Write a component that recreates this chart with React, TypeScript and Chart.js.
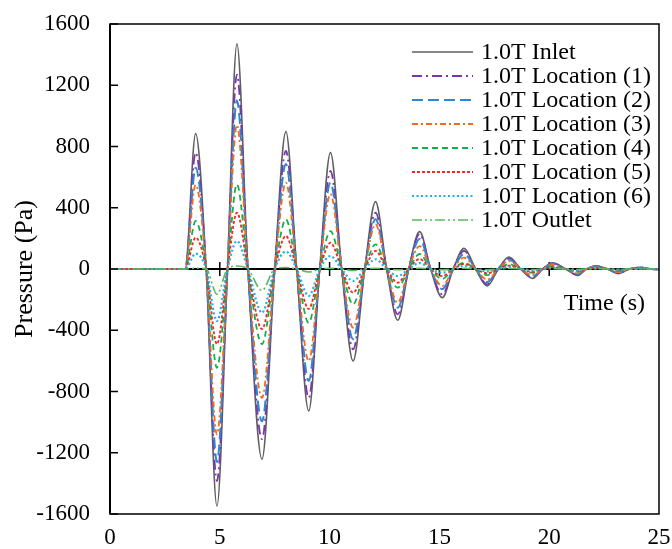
import React, { useEffect, useRef } from "react";
import { Chart, registerables } from "chart.js";

Chart.register(...registerables);

const FONT = "'Liberation Serif', 'Times New Roman', serif";

// Time (s)
const timeS = [0, 3.42, 3.9, 4.38, 4.87, 5.35, 5.78, 6.28, 6.92, 7.5, 8.01, 8.5, 9.05, 9.55, 10.04, 10.55, 11.07, 11.6, 12.09, 12.6, 13.1, 13.6, 14.1, 14.6, 15.13, 15.63, 16.12, 16.65, 17.18, 17.68, 18.17, 18.7, 19.24, 19.7, 20.15, 20.75, 21.3, 21.7, 22.15, 22.65, 23.15, 23.65, 24.15, 24.65, 25];

// Pressure (Pa)
const inlet = [0, 0, 884, 0, -1549, 0, 1470, 0, -1242, 0, 897, 0, -927, 0, 760, 0, -601, 0, 440, 0, -335, 0, 244, 0, -187, 0, 135, 0, -111, 0, 78, 0, -61, 0, 41, 0, -42, 0, 20, 0, -30, 0, 10, 0, -3];
const loc1 = [0, 0, 760, 0, -1385, 0, 1270, 0, -1111, 0, 771, 0, -841, 0, 640, 0, -525, 0, 368, 0, -296, 0, 229, 0, -166, 0, 118, 0, -100, 0, 70, 0, -55, 0, 38, 0, -38, 0, 20, 0, -27, 0, 10, 0, -3];
const loc2 = [0, 0, 662, 0, -1260, 0, 1100, 0, -995, 0, 686, 0, -731, 0, 564, 0, -458, 0, 325, 0, -253, 0, 196, 0, -131, 0, 98, 0, -85, 0, 62, 0, -48, 0, 34, 0, -33, 0, 18, 0, -24, 0, 9, 0, -3];
const loc3 = [0, 0, 550, 0, -1080, 0, 940, 0, -841, 0, 564, 0, -601, 0, 490, 0, -383, 0, 292, 0, -220, 0, 150, 0, -111, 0, 74, 0, -70, 0, 52, 0, -40, 0, 28, 0, -28, 0, 15, 0, -20, 0, 8, 0, -2];
const loc4 = [0, 0, 314, 0, -645, 0, 553, 0, -490, 0, 324, 0, -351, 0, 248, 0, -231, 0, 161, 0, -122, 0, 98, 0, -65, 0, 41, 0, -40, 0, 32, 0, -25, 0, 18, 0, -18, 0, 10, 0, -13, 0, 5, 0, -1];
const loc5 = [0, 0, 205, 0, -490, 0, 368, 0, -392, 0, 216, 0, -261, 0, 172, 0, -155, 0, 118, 0, -89, 0, 65, 0, -46, 0, 33, 0, -28, 0, 22, 0, -18, 0, 12, 0, -12, 0, 7, 0, -9, 0, 4, 0, -1];
const loc6 = [0, 0, 100, 0, -340, 0, 183, 0, -285, 0, 115, 0, -176, 0, 85, 0, -78, 0, 63, 0, -46, 0, 39, 0, -24, 0, 20, 0, -15, 0, 12, 0, -10, 0, 8, 0, -8, 0, 4, 0, -5, 0, 2, 0, 0];
const outlet = [0, 0, 5, 0, -165, 0, 20, 0, -140, 0, 10, 0, -20, 0, 5, 0, -10, 0, 5, 0, -5, 0, 5, 0, -5, 0, 5, 0, -5, 0, 3, 0, -3, 0, 2, 0, -2, 0, 2, 0, -2, 0, 1, 0, 0];

const seriesLabels = [
  "1.0T Inlet",
  "1.0T Location (1)",
  "1.0T Location (2)",
  "1.0T Location (3)",
  "1.0T Location (4)",
  "1.0T Location (5)",
  "1.0T Location (6)",
  "1.0T Outlet",
];
const seriesValues = [inlet, loc1, loc2, loc3, loc4, loc5, loc6, outlet];
const seriesColors = ["#5f5f5f", "#7a35b0", "#2f86d0", "#f26b1d", "#12b04a", "#f02828", "#19b2ea", "#5cb85c"];
const seriesDashes: number[][] = [[], [10, 4, 2, 4], [11, 5], [6, 3, 2, 3], [6, 4], [3, 2], [2, 2.5], [10, 3, 2, 3, 2, 3]];
const seriesWidths = [1.6, 1.8, 2, 1.8, 1.8, 1.8, 2.2, 1.6];

const xTickValues = [0, 5, 10, 15, 20, 25];
const yTickValues = [-1600, -1200, -800, -400, 0, 400, 800, 1200, 1600];
const xAxisTitle = "Time (s)";
const yAxisTitle = "Pressure (Pa)";

const framePlugin = {
  id: "frameAndAxes",
  beforeDatasetsDraw(chart: any) {
    const { ctx, chartArea: a, scales } = chart;
    const y0 = scales.y.getPixelForValue(0);
    ctx.save();
    ctx.strokeStyle = "#000";
    ctx.lineWidth = 2;
    ctx.beginPath();
    ctx.moveTo(a.left, y0);
    ctx.lineTo(a.right, y0);
    ctx.stroke();
    ctx.lineWidth = 1.5;
    xTickValues.forEach((v) => {
      if (v <= 0 || v >= 25) return;
      const x = scales.x.getPixelForValue(v);
      ctx.beginPath();
      ctx.moveTo(x, y0 - 7);
      ctx.lineTo(x, y0 + 7);
      ctx.stroke();
    });
    ctx.restore();
  },
  afterDatasetsDraw(chart: any) {
    const { ctx, chartArea: a, scales } = chart;
    ctx.save();
    ctx.strokeStyle = "#000";
    ctx.lineWidth = 1.5;
    ctx.strokeRect(a.left, a.top, a.right - a.left, a.bottom - a.top);
    ctx.lineWidth = 2;
    ctx.beginPath();
    ctx.moveTo(a.left, a.top);
    ctx.lineTo(a.left, a.bottom);
    ctx.stroke();
    ctx.lineWidth = 1.5;
    yTickValues.forEach((v) => {
      const y = scales.y.getPixelForValue(v);
      ctx.beginPath();
      ctx.moveTo(a.left, y);
      ctx.lineTo(a.left + 8, y);
      ctx.stroke();
    });
    // x axis title near zero line
    const y0 = scales.y.getPixelForValue(0);
    ctx.fillStyle = "#000";
    ctx.font = `24px ${FONT}`;
    ctx.textAlign = "right";
    ctx.textBaseline = "middle";
    ctx.fillText(xAxisTitle, a.right - 14, y0 + 35);
    // legend
    ctx.font = `24px ${FONT}`;
    ctx.textAlign = "left";
    chart.data.datasets.forEach((ds: any, i: number) => {
      const y = a.top + 28 + i * 24;
      const x0 = a.right - 247;
      ctx.strokeStyle = ds.borderColor;
      ctx.lineWidth = ds.borderWidth;
      ctx.setLineDash(ds.borderDash || []);
      ctx.beginPath();
      ctx.moveTo(x0, y);
      ctx.lineTo(x0 + 61, y);
      ctx.stroke();
      ctx.setLineDash([]);
      ctx.fillStyle = "#000";
      ctx.fillText(ds.label, x0 + 69, y + 1);
    });
    ctx.restore();
  },
};

export default function App() {
  const canvasRef = useRef<HTMLCanvasElement | null>(null);

  useEffect(() => {
    if (!canvasRef.current) return;
    const datasets = seriesLabels.map((label, i) => ({
      label,
      data: timeS.map((t, k) => ({ x: t, y: seriesValues[i][k] })),
      borderColor: seriesColors[i],
      backgroundColor: seriesColors[i],
      borderDash: seriesDashes[i],
      borderWidth: seriesWidths[i],
      pointRadius: 0,
      fill: false,
      cubicInterpolationMode: "monotone" as const,
      order: seriesLabels.length - i,
    }));
    const chart = new Chart(canvasRef.current, {
      type: "line",
      data: { datasets },
      options: {
        animation: false,
        responsive: true,
        maintainAspectRatio: false,
        layout: { padding: { top: 24, right: 13, left: 0, bottom: 0 } },
        plugins: { legend: { display: false }, tooltip: { enabled: false } },
        scales: {
          x: {
            type: "linear",
            min: 0,
            max: 25,
            afterFit: (s: any) => { s.height = 35; s.paddingLeft = 0; s.paddingRight = 0; },
            afterBuildTicks: (s: any) => { s.ticks = xTickValues.map((v) => ({ value: v })); },
            grid: { display: false, drawTicks: false },
            border: { display: false },
            ticks: { padding: 10, color: "#000", font: { family: FONT, size: 23 }, maxRotation: 0, callback: (v: any) => String(v) },
          },
          y: {
            type: "linear",
            min: -1600,
            max: 1600,
            afterFit: (s: any) => { s.width = 110; s.paddingTop = 0; s.paddingBottom = 0; },
            afterBuildTicks: (s: any) => { s.ticks = yTickValues.map((v) => ({ value: v })); },
            grid: { display: false, drawTicks: false },
            border: { display: false },
            ticks: { padding: 20, color: "#000", font: { family: FONT, size: 23 }, callback: (v: any) => String(v) },
            title: {
              display: true,
              text: yAxisTitle,
              color: "#000",
              font: { family: FONT, size: 26 },
              padding: { top: 10, bottom: 0 },
            },
          },
        },
      },
      plugins: [framePlugin],
    });
    return () => chart.destroy();
  }, []);

  return (
    <div style={{ position: "fixed", left: 0, top: 0, width: 672, height: 549, background: "#fff" }}>
      <canvas ref={canvasRef} />
    </div>
  );
}
